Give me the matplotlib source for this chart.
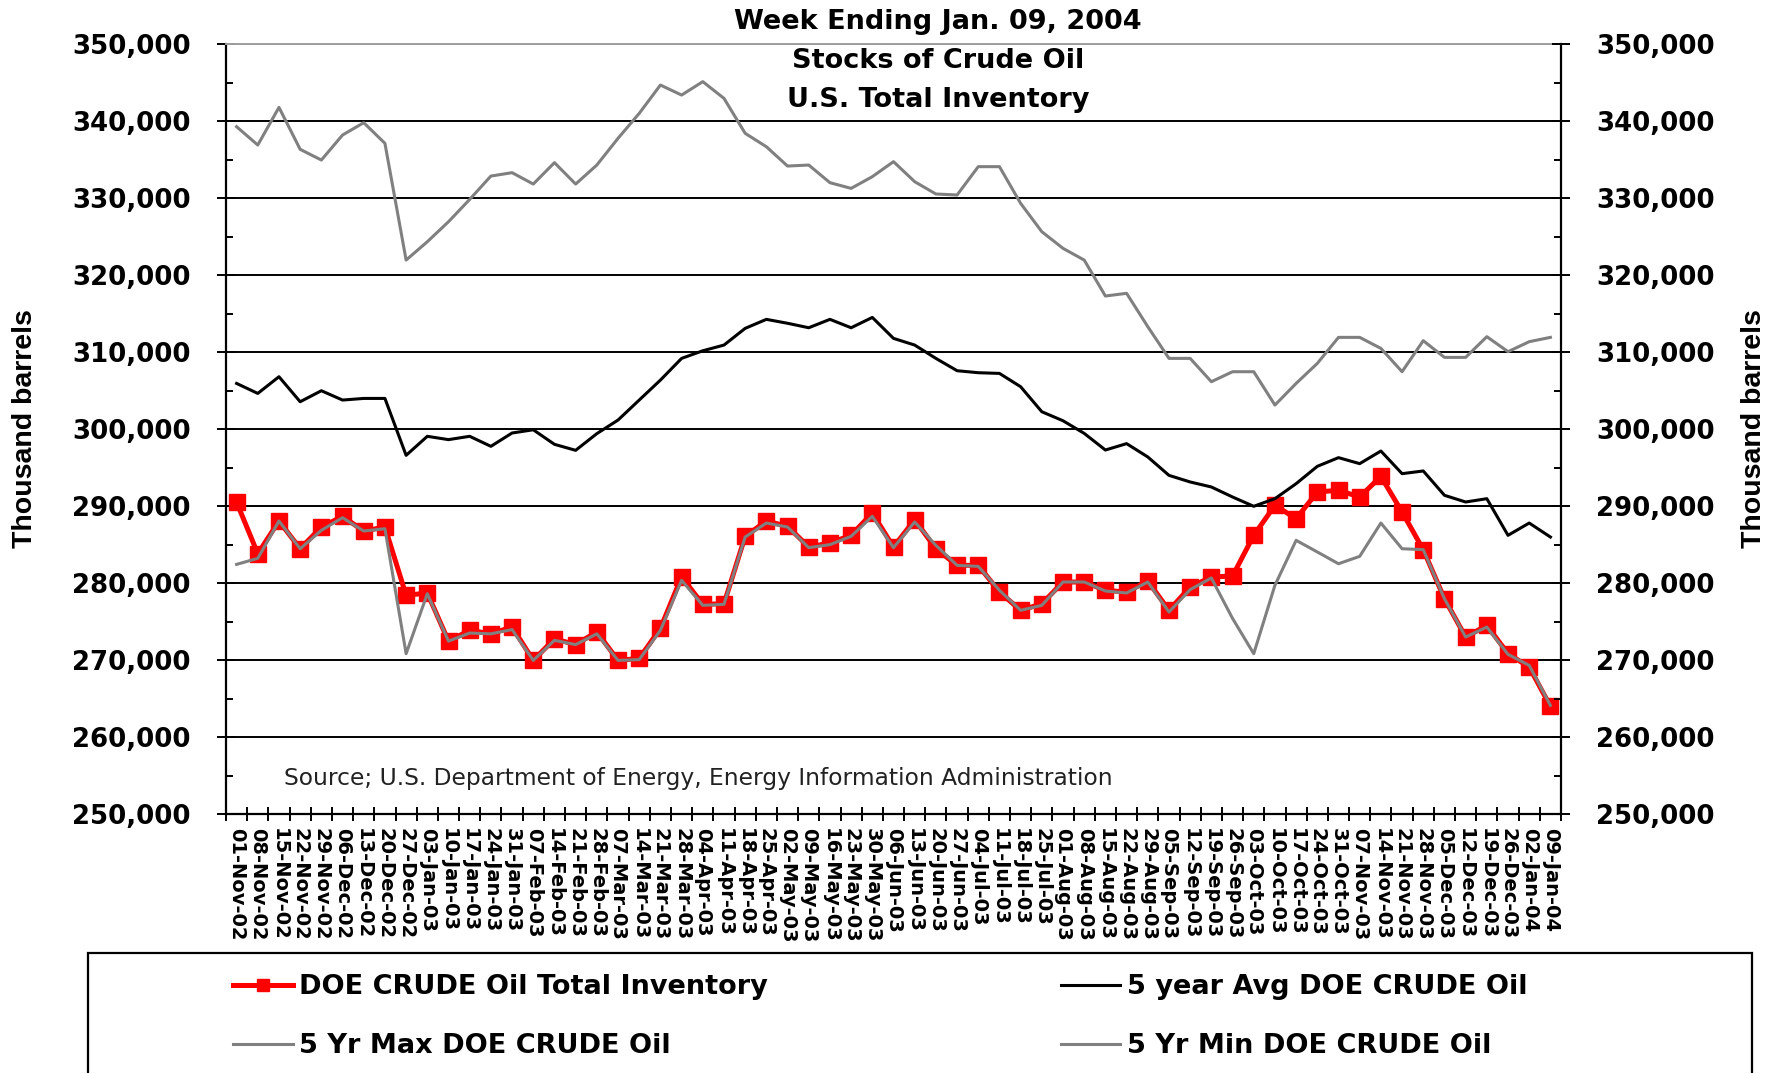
import numpy as np
import pandas as pd
import matplotlib
matplotlib.use("Agg")
import matplotlib.pyplot as plt
from matplotlib.ticker import FuncFormatter, MultipleLocator
from matplotlib.patches import Rectangle

# weekly dates, 01-Nov-02 .. 09-Jan-04
week_labels = [d.strftime("%d-%b-%y") for d in pd.date_range("2002-11-01", "2004-01-09", freq="7D")]

# thousand barrels
inventory = [290500, 283800, 288050, 284450, 287270, 288650, 286750, 287270, 278400, 278700,
             272450, 273850, 273400, 274300, 269950, 272750, 272000, 273650, 269950, 270200,
             274100, 280800, 277230, 277300, 286060, 288050, 287360, 284670, 285200, 286190,
             289100, 284670, 288220, 284450, 282290, 282290, 278830, 276450, 277300, 280130,
             280130, 279050, 278830, 280260, 276450, 279480, 280780, 280910, 286190, 290090,
             288350, 291820, 292040, 291170, 293850, 289220, 284330, 277960, 272980, 274500,
             270820, 269090, 263980]

avg_5yr = [305920, 304620, 306790, 303540, 304970, 303760, 303970, 303970, 296580, 299050,
           298620, 299050, 297750, 299480, 299900, 298010, 297230, 299400, 301160, 303760,
           306350, 309170, 310160, 310900, 313070, 314240, 313730, 313150, 314240, 313150,
           314490, 311770, 310900, 309170, 307570, 307310, 307220, 305490, 302240, 301070,
           299430, 297270, 298100, 296370, 293980, 293120, 292470, 291170, 289960, 290950,
           292900, 295150, 296280, 295500, 297140, 294200, 294550, 291390, 290520, 290950,
           286190, 287790, 285970]

max_5yr = [339260, 336880, 341770, 336320, 334930, 338180, 339780, 337100, 321940, 324320,
           326920, 329820, 332850, 333290, 331810, 334590, 331810, 334280, 337750, 340990,
           344670, 343370, 345110, 342940, 338400, 336660, 334150, 334280, 331990, 331250,
           332770, 334720, 332120, 330520, 330390, 334070, 334070, 329300, 325620, 323460,
           321940, 317270, 317620, 313290, 309170, 309170, 306140, 307440, 307440, 303110,
           305920, 308520, 311900, 311900, 310470, 307440, 311470, 309300, 309300, 311990,
           310040, 311340, 311900]

min_5yr = [282420, 283200, 288050, 284450, 286840, 288480, 286750, 287050, 270820, 278610,
           272450, 273500, 273400, 273950, 269950, 272550, 272000, 273400, 269950, 270050,
           273850, 280350, 277100, 277230, 285970, 287790, 287270, 284590, 284980, 286060,
           288660, 284590, 287920, 284890, 282290, 282160, 279050, 276450, 277100, 280130,
           280130, 278960, 278700, 280130, 276230, 279140, 280650, 275400, 270820, 279700,
           285540, 284030, 282500, 283460, 287790, 284450, 284330, 277960, 272980, 274280,
           270730, 269300, 264100]

series_names = ["DOE CRUDE Oil Total Inventory", "5 year Avg DOE CRUDE Oil",
                "5 Yr Max DOE CRUDE Oil", "5 Yr Min DOE CRUDE Oil"]
title_lines = ["Week Ending Jan. 09, 2004", "Stocks of Crude Oil", "U.S. Total Inventory"]
source_note = "Source; U.S. Department of Energy, Energy Information Administration"

W, H = 1780, 1073
fig = plt.figure(figsize=(W / 100, H / 100), dpi=100)
ax = fig.add_axes([226 / W, 1 - 814 / H, (1561 - 226) / W, (814 - 44) / H])

x = np.arange(len(week_labels))
gray = "#808080"
l_inv, = ax.plot(x, inventory, color="#ff0000", lw=3.6, marker="s", ms=11,
                 mec="#ff0000", mfc="#ff0000", zorder=3)
l_avg, = ax.plot(x, avg_5yr, color="black", lw=2.2, zorder=4)
l_max, = ax.plot(x, max_5yr, color=gray, lw=2.2, zorder=4)
l_min, = ax.plot(x, min_5yr, color=gray, lw=2.2, zorder=5)

ax.set_xlim(-0.5, len(week_labels) - 0.5)
ax.set_ylim(250000, 350000)

fmt = FuncFormatter(lambda v, p: f"{int(v):,}")
tick_font = dict(family="DejaVu Sans", weight="bold", size=18.7)

ax.yaxis.set_major_locator(MultipleLocator(10000))
ax.yaxis.set_minor_locator(MultipleLocator(5000))
ax.yaxis.set_major_formatter(fmt)
ax.grid(axis="y", which="major", color="black", lw=1.4)
ax.tick_params(axis="y", which="major", direction="inout", length=13, width=1.4, pad=19)
ax.tick_params(axis="y", which="minor", direction="in", length=5, width=1.4)
for t in ax.get_yticklabels():
    t.set_fontproperties(tick_font)

# category ticks between weeks, labels at week centres
ax.set_xticks(np.arange(-0.5, len(week_labels)), labels=[])
ax.set_xticks(x, minor=True)
ax.set_xticklabels(week_labels, minor=True, rotation=-90, family="DejaVu Sans",
                   weight="bold", fontsize=14)
ax.tick_params(axis="x", which="major", direction="inout", length=9.5, width=1.4)
ax.tick_params(axis="x", which="minor", length=0, pad=10)

for side in ["left", "right", "bottom"]:
    ax.spines[side].set_linewidth(1.6)
ax.spines["top"].set_color("#a0a0a0")
ax.spines["top"].set_linewidth(1.4)

axr = ax.twinx()
axr.set_ylim(ax.get_ylim())
axr.yaxis.set_major_locator(MultipleLocator(10000))
axr.yaxis.set_minor_locator(MultipleLocator(5000))
axr.yaxis.set_major_formatter(fmt)
axr.tick_params(axis="y", which="major", direction="inout", length=13, width=1.4, pad=19)
axr.tick_params(axis="y", which="minor", direction="in", length=5, width=1.4)
for t in axr.get_yticklabels():
    t.set_fontproperties(tick_font)
for s in axr.spines.values():
    s.set_visible(False)

label_font = dict(family="Liberation Sans", weight="bold", fontsize=20.5)
fig.text(25 / W, 1 - 429 / H, "Thousand barrels", rotation=90, ha="center", va="center", **label_font)
fig.text(1754 / W, 1 - 429 / H, "Thousand barrels", rotation=90, ha="center", va="center", **label_font)

for yy, line in zip([22, 61, 100], title_lines):
    fig.text(938 / W, 1 - yy / H, line, ha="center", va="center",
             family="DejaVu Sans", weight="bold", fontsize=19.5)

fig.text(284 / W, 1 - 779 / H, source_note, ha="left", va="center",
         family="DejaVu Sans", fontsize=16.8, color="#222222")

# legend box running off the bottom of the picture
fig.patches.append(Rectangle((88 / W, -0.05), (1752 - 88) / W, 0.05 + 1 - 953 / H,
                             transform=fig.transFigure, fill=False, ec="black", lw=1.6))
leg = fig.legend([l_inv, l_max, l_avg, l_min],
                 [series_names[0], series_names[2], series_names[1], series_names[3]],
                 ncol=2, loc="upper left", bbox_to_anchor=(233 / W, 1 - 974 / H),
                 frameon=False, borderpad=0, borderaxespad=0, handlelength=2.2,
                 handletextpad=0.25, columnspacing=10.8, labelspacing=1.22,
                 prop=dict(family="DejaVu Sans", weight="bold", size=19.5))
for h in leg.legend_handles:
    h.set_markersize(8)

fig.savefig("out.png", dpi=100)
